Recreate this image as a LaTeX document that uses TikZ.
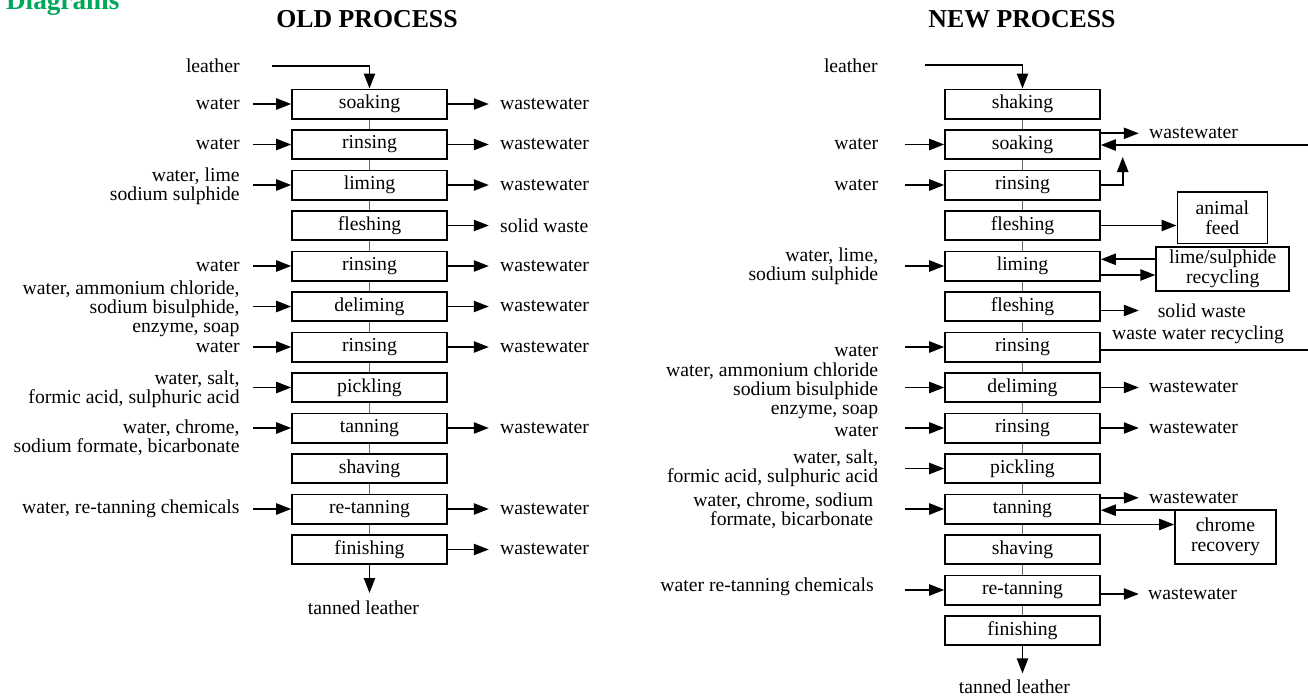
\documentclass[tikz,border=0pt]{standalone}
\usepackage{fontspec}
\setmainfont{Liberation Serif}
\usepackage{tikz}
\usetikzlibrary{arrows.meta,positioning}
\definecolor{titlegreen}{RGB}{0,168,89}

\begin{document}
\begin{tikzpicture}[x=0.5pt, y=-0.5pt,
  box/.style={draw, line width=0.8pt, minimum width=77.5pt, minimum height=14.7pt, inner sep=0pt, font=\fontsize{9.85}{9.4}\selectfont},
  sbox/.style={draw, line width=0.8pt, inner sep=0pt, align=center, font=\fontsize{9.85}{9.8}\selectfont},
  lbl/.style={inner sep=0pt, font=\fontsize{9.85}{9.4}\selectfont},
  ttl/.style={anchor=base, font=\fontsize{12.9}{14}\selectfont\bfseries},
  arr/.style={line width=0.9pt, -{Triangle[length=7.5pt,width=5.6pt]}},
  link/.style={line width=0.4pt, black!60}]
\useasboundingbox (0,0) rectangle (1308,696);
\path (-1,10) node[anchor=base west, font=\fontsize{13.6}{15}\selectfont\bfseries, text=titlegreen] (diag) {Diagrams};
\path (367,27) node[ttl] (oldt) {OLD PROCESS};
\path (1022,27) node[ttl] (newt) {NEW PROCESS};
%old process
\foreach \t [count=\i] in {soaking,rinsing,liming,fleshing,rinsing,deliming,rinsing,pickling,tanning,shaving,re-tanning,finishing}
  \node[box] (o\i) at (369.5,{104+(\i-1)*40.5}) {\t};
\foreach \i [count=\j from 2] in {1,...,11}
  \draw[link] (o\i) -- (o\j);
\node[lbl, anchor=base east] (oleather) at (240,72.7) {leather};
\draw[arr] ([xshift=16pt]oleather.east) -| (o1.north);
\foreach \i/\dy/\t in {1/0/water,2/0/water,3/1/{water, lime\\sodium sulphide},5/0/water,%
    6/2.5/{water, ammonium chloride,\\sodium bisulphide,\\enzyme, soap},7/0/water,%
    8/2/{water, salt,\\formic acid, sulphuric acid},9/10/{water, chrome,\\sodium formate, bicarbonate},%
    11/0/{water, re-tanning chemicals}}{
  \node[lbl, anchor=east, align=right] (oin\i) at (240,{104+(\i-1)*40.5+\dy}) {\t};
  \draw[arr] ([xshift=-19pt]o\i.west) -- (o\i.west);
}
\foreach \i/\t in {1/wastewater,2/wastewater,3/wastewater,4/solid waste,5/wastewater,6/wastewater,7/wastewater,9/wastewater,11/wastewater,12/wastewater}{
  \draw[arr] (o\i.east) -- ([xshift=20.5pt]o\i.east);
  \node[lbl, anchor=west] (oout\i) at ([xshift=26pt]o\i.east) {\t};
}
\draw[arr] (o12.south) -- ([yshift=-14pt]o12.south) coordinate (oend);
\node[lbl, anchor=north] (otan) at ([xshift=-3pt,yshift=-3.5pt]oend) {tanned leather};
%new process
\foreach \t [count=\i] in {shaking,soaking,rinsing,fleshing,liming,fleshing,rinsing,deliming,rinsing,pickling,tanning,shaving,re-tanning,finishing}
  \node[box] (n\i) at (1022.5,{104+(\i-1)*40.5}) {\t};
\foreach \i [count=\j from 2] in {1,...,13}
  \draw[link] (n\i) -- (n\j);
\node[lbl, anchor=base east] (nleather) at (878,72) {leather};
\draw[arr] ([xshift=23.3pt]nleather.east) -| (n1.north);
\foreach \i/\dx/\dy/\t in {2/0/0/water,3/0/0/water,5/0/0/{water, lime,\\sodium sulphide},7/0/4/water,%
    8/0/3/{water, ammonium chloride\\sodium bisulphide\\enzyme, soap},9/0/3/water,%
    10/0/0/{water, salt,\\formic acid, sulphuric acid},11/5/2/{water, chrome, sodium\\formate, bicarbonate},%
    13/4.5/-3/{water re-tanning chemicals}}{
  \node[lbl, anchor=east, align=right] (nin\i) at ({878.6-\dx},{104+(\i-1)*40.5+\dy}) {\t};
  \draw[arr] ([xshift=-19.5pt]n\i.west) -- (n\i.west);
}
\foreach \i/\dx/\dy/\t in {2/24/5.6/wastewater,6/28.3/-2/solid waste,8/24/0/wastewater,9/24/0/wastewater,11/24/5.6/wastewater,13/23.5/-2/wastewater}{
  \draw[arr] ([yshift=\dy pt]n\i.east) -- ([xshift=19pt,yshift=\dy pt]n\i.east);
  \node[lbl, anchor=west] (nout\i) at ([xshift=\dx pt,yshift=\dy pt]n\i.east) {\t};
}
%recycling loops
\coordinate (rin) at (1308,145);
\draw[arr] (rin) -- (rin -| n2.east);
\coordinate (up) at (1122.7,157);
\draw[arr] (n3.east) -| (up);
\node[sbox, minimum width=45pt, minimum height=25.8pt] (feed) at (1222.3,217.5) {animal\\feed};
\draw[arr] (n4.east) -- (n4.east -| feed.west);
\node[sbox, minimum width=66.5pt, minimum height=22pt] (lime) at (1222.7,268.7) {lime/sulphide\\recycling};
\coordinate (lback) at ([yshift=4.7pt]lime.west);
\coordinate (lout) at ([yshift=-4.5pt]n5.east);
\draw[arr] (lback) -- (lback -| n5.east);
\draw[arr] (lout) -- (lout -| lime.west);
\coordinate (rout) at (1308,350);
\draw[line width=0.9pt] (n7.east |- rout) -- (rout);
\node[lbl] (nrec) at (1198,335) {waste water recycling};
\node[sbox, minimum width=50.5pt, minimum height=27pt] (chrome) at (1225.5,537) {chrome\\recovery};
\coordinate (cback) at ([yshift=-0.5pt]chrome.north west);
\draw[arr] (cback) -- (cback -| n11.east);
\draw[arr] (n11.south east) -- (n11.south east -| chrome.west);
\draw[arr] (n14.south) -- ([yshift=-13.7pt]n14.south) coordinate (nend);
\node[lbl, anchor=north] (ntan) at ([xshift=-4pt,yshift=-3pt]nend) {tanned leather};
\end{tikzpicture}
\end{document}
